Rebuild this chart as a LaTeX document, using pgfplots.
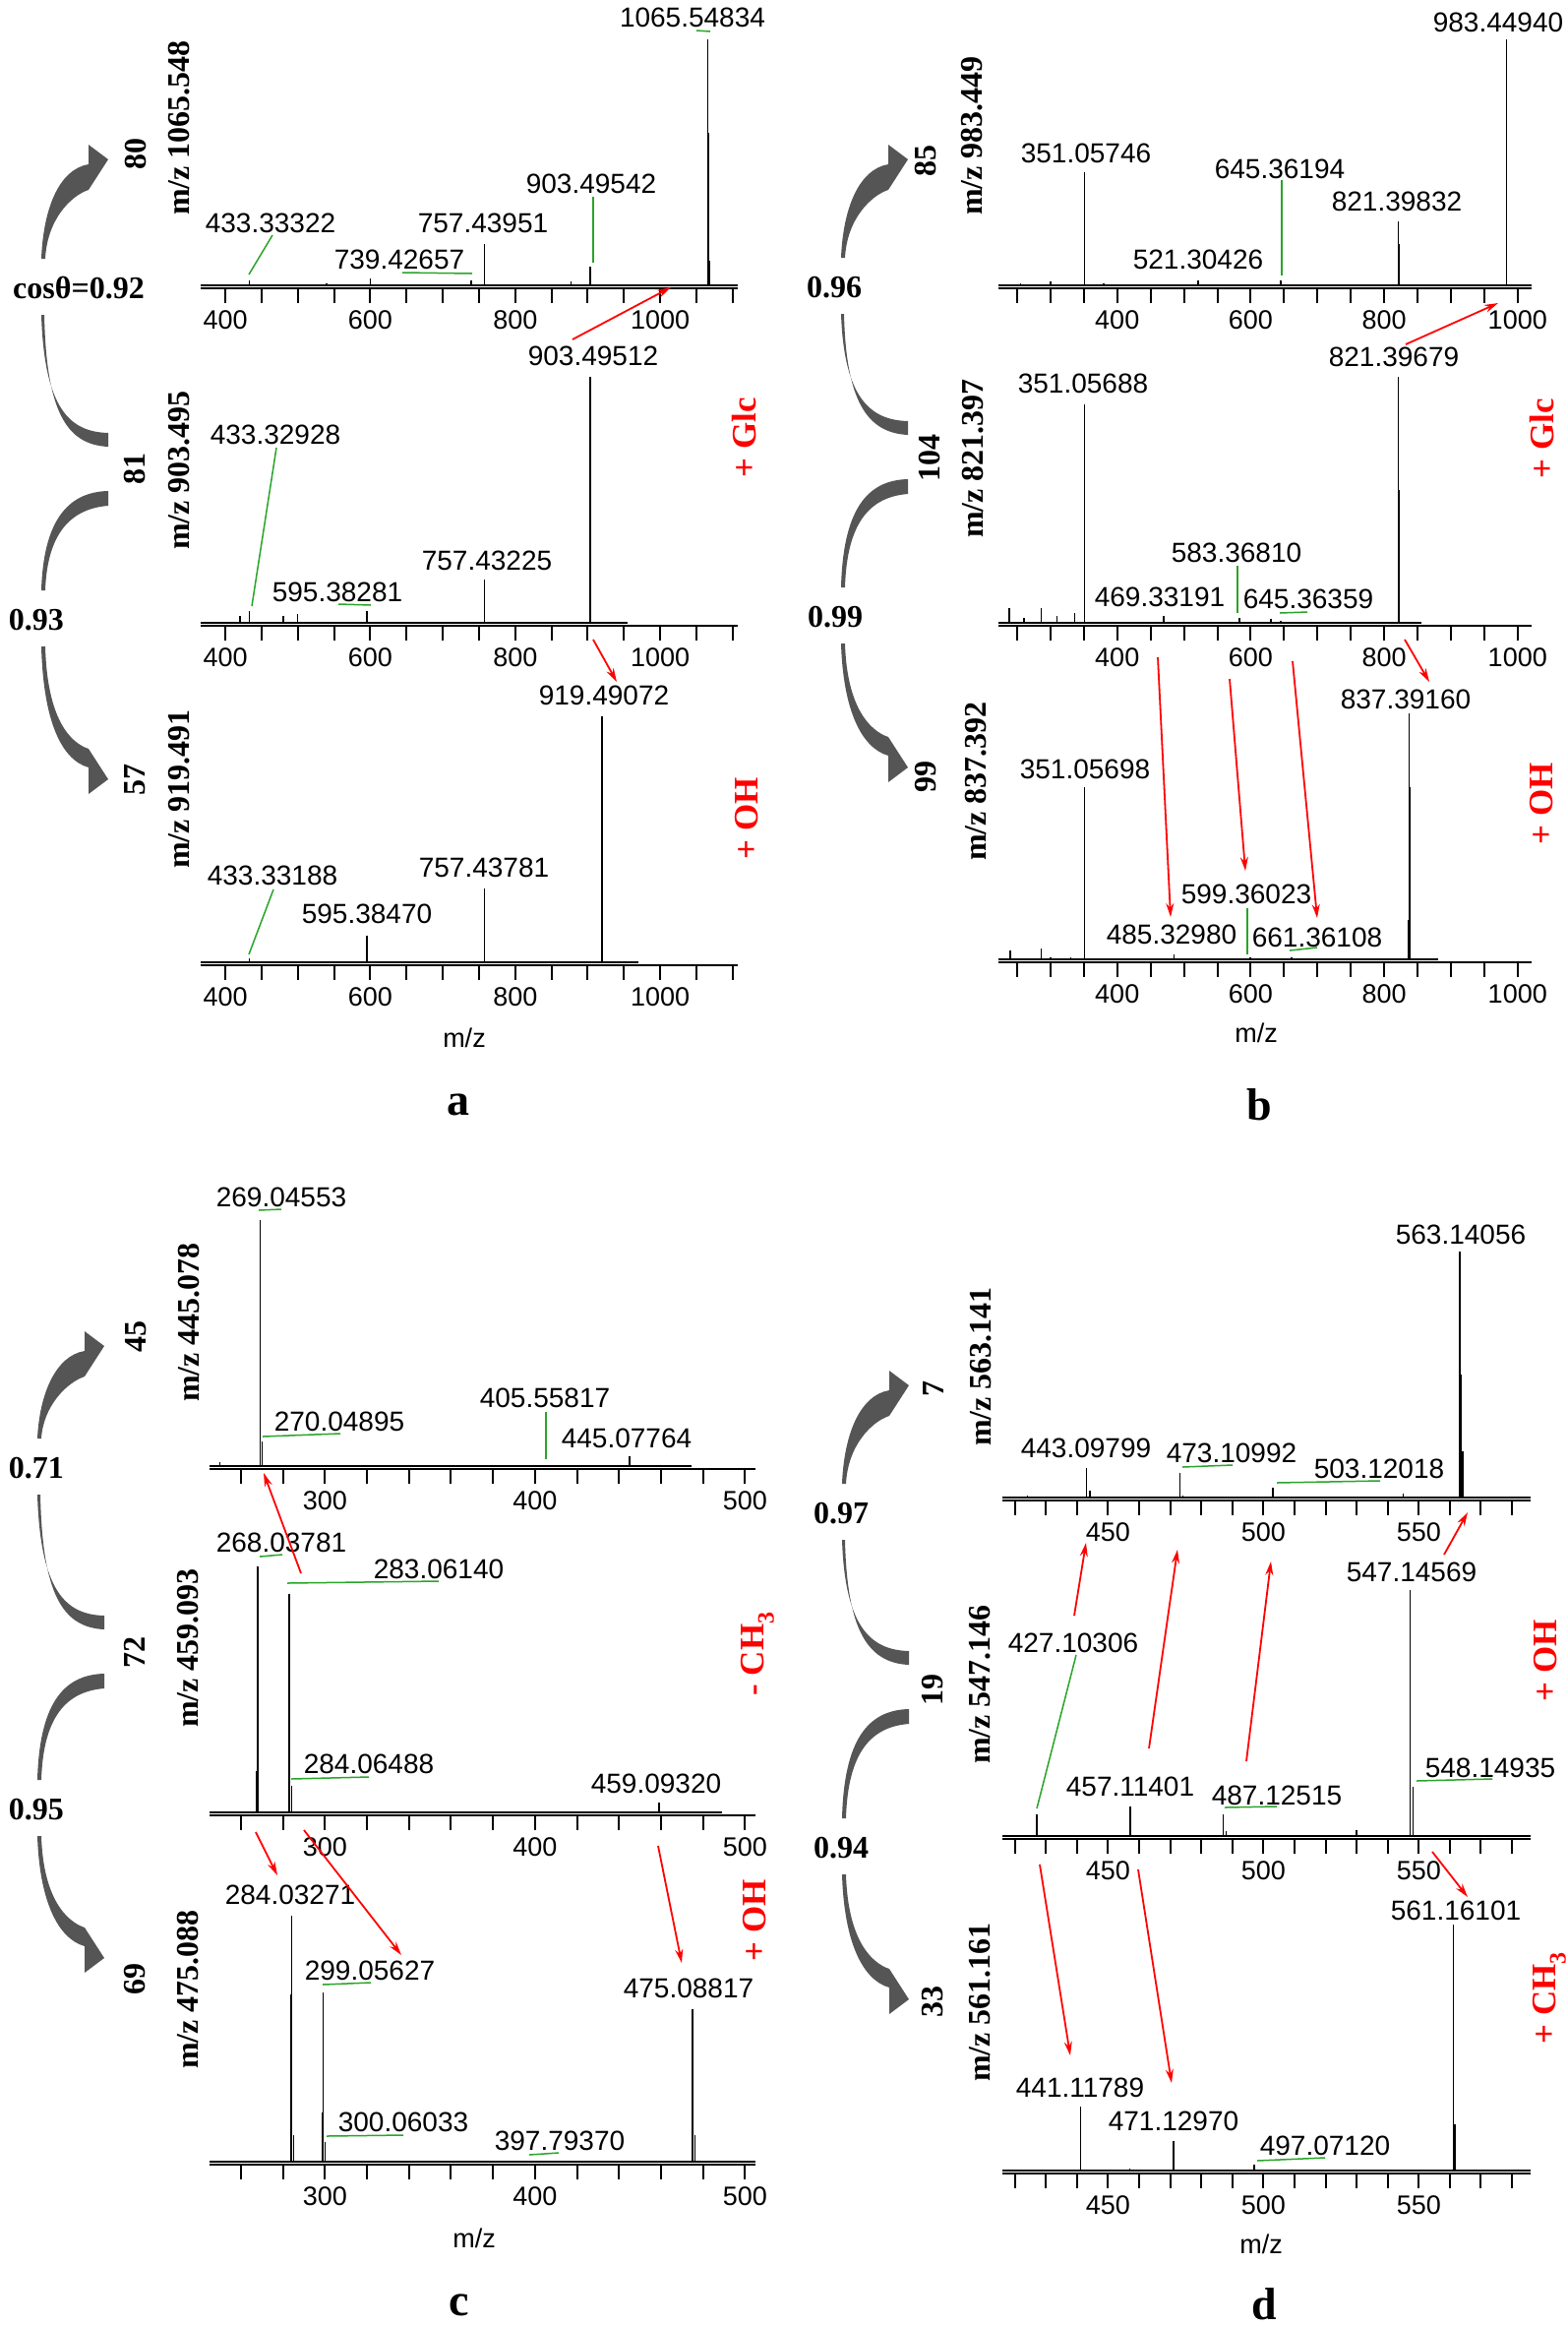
\documentclass[border=0pt]{standalone}
\usepackage{fontspec}
\setmainfont{Liberation Serif}
\newfontfamily\arial{Liberation Sans}
\usepackage{pgfplots}
\pgfplotsset{compat=1.18}
\usetikzlibrary{arrows.meta}

\definecolor{grn}{RGB}{40,165,40}
\definecolor{arr}{RGB}{85,85,85}

\newcommand\lab{\arial\fontsize{28}{32}\selectfont}
\newcommand\tk{\arial\fontsize{27}{30}\selectfont}
\newcommand\bt{\bfseries\fontsize{32}{36}\selectfont}
\newcommand\rd{\bfseries\fontsize{35}{40}\selectfont}
\newcommand\sub[1]{\raisebox{-0.3em}{\fontsize{24}{24}\selectfont #1}}

\pgfplotsset{spec/.style={
  scale only axis, height=253pt, ymin=-1.2, ymax=100,
  axis y line=none, axis x line*=bottom,
  x axis line style={-, line width=2.2pt},
  tick align=outside, major tick length=15pt, minor tick length=15pt,
  every tick/.style={black, line width=2pt},
  xticklabel style={font=\tk, yshift=-4pt},
  /pgf/number format/assume math mode=true,
  /pgf/number format/1000 sep={},
  clip=false, anchor=south west,
}}
\pgfplotsset{pk/.style={ycomb, black, line width=1.5pt}}
\pgfplotsset{base/.style={black, line width=1.6pt}}

% gray curved arrows: x, tip1, sim1, mid label, sim2, tip3
\newcommand\garrows[6]{%
 \fill[arr] (#1,#3-30) .. controls (#1+2,#2+50) and (#1+18,#2+10) .. (#1+48,#2+5)
   -- (#1+48,#2-15) -- (#1+68,#2) -- (#1+48,#2+31)
   .. controls (#1+30,#2+37) and (#1+6,#2+61) .. (#1+4,#3-30) -- cycle;
 \fill[arr] (#1,#3+27) .. controls (#1+3,#4-60) and (#1+30,#4-38) .. (#1+68,#4-37)
   -- (#1+68,#4-23) .. controls (#1+25,#4-25) and (#1+5,#4-60) .. (#1+3,#3+27) -- cycle;
 \fill[arr] (#1,#5-30) .. controls (#1+2,#4+55) and (#1+25,#4+23) .. (#1+68,#4+22)
   -- (#1+68,#4+37) .. controls (#1+30,#4+40) and (#1+6,#4+65) .. (#1+4,#5-30) -- cycle;
 \fill[arr] (#1+4,#5+27) .. controls (#1+6,#6-60) and (#1+30,#6-37) .. (#1+48,#6-31)
   -- (#1+68,#6) -- (#1+48,#6+15) -- (#1+48,#6-12)
   .. controls (#1+20,#6-20) and (#1+2,#6-60) .. (#1,#5+27) -- cycle;
}

\begin{document}
\begin{tikzpicture}

% ---------------- panel a
\begin{axis}[spec, at={(204pt,-293pt)}, width=546pt, xmin=366, xmax=1107,
  xtick={400,600,800,1000}, minor xtick={450,500,...,1100}]
\addplot[base] coordinates {(366,0) (1107,0)};
\addplot[pk] coordinates {(433.33,2) (540,1) (600,3) (739.43,2) (757.44,17) (877,1.5) (903.50,7.7) (1065.55,100) (1066.55,62) (1067.55,10)};
\end{axis}
\begin{axis}[spec, at={(204pt,-636pt)}, width=546pt, xmin=366, xmax=1107,
  xtick={400,600,800,1000}, minor xtick={450,500,...,1100}]
\addplot[base] coordinates {(366,0) (955,0)};
\addplot[pk] coordinates {(420,3) (433.33,5) (480,3) (500,3.5) (595.38,5) (757.43,17.5) (903.50,100)};
\end{axis}
\begin{axis}[spec, at={(204pt,-981pt)}, width=546pt, xmin=366, xmax=1107,
  xtick={400,600,800,1000}, minor xtick={450,500,...,1100}]
\addplot[base] coordinates {(366,0) (970,0)};
\addplot[pk] coordinates {(433.33,1.5) (595.38,11) (757.44,30) (919.49,100)};
\end{axis}

% ---------------- panel b
\begin{axis}[spec, at={(1015pt,-293pt)}, width=542pt, xmin=222, xmax=1021,
  xtick={400,600,800,1000}, minor xtick={250,300,...,1000}]
\addplot[base] coordinates {(222,0) (1021,0)};
\addplot[pk] coordinates {(255,1) (300,1.5) (351.06,46) (380,1) (521.30,2) (645.36,2) (821.40,26) (822.40,17) (983.45,100)};
\end{axis}
\begin{axis}[spec, at={(1015pt,-636pt)}, width=542pt, xmin=222, xmax=1021,
  xtick={400,600,800,1000}, minor xtick={250,300,...,1000}]
\addplot[base] coordinates {(222,0) (856,0)};
\addplot[pk] coordinates {(238,6) (260,2) (286,6) (310,3) (336,4) (351.06,89) (469.33,2.7) (583.37,2) (630,1.5) (645.36,1) (821.40,100) (822.40,54)};
\end{axis}
\begin{axis}[spec, at={(1015pt,-978pt)}, width=542pt, xmin=222, xmax=1021,
  xtick={400,600,800,1000}, minor xtick={250,300,...,1000}]
\addplot[base] coordinates {(222,0) (881,0)};
\addplot[pk] coordinates {(240,3.5) (286,4.5) (300,1) (330,1) (351.06,70) (485.33,2) (599.36,1) (661.36,1) (836.9,16) (837.39,100) (838.39,70)};
\end{axis}

% ---------------- panel c
\begin{axis}[spec, at={(213pt,-1493pt)}, width=555pt, xmin=245, xmax=505,
  xtick={300,400,500}, minor xtick={260,280,...,500}]
\addplot[base] coordinates {(245,0) (474.5,0)};
\addplot[pk] coordinates {(250,1.5) (269.05,100) (270.05,10) (405.56,0.5) (445.08,4)};
\end{axis}
\begin{axis}[spec, at={(213pt,-1845pt)}, width=555pt, xmin=245, xmax=505,
  xtick={300,400,500}, minor xtick={260,280,...,500}]
\addplot[base] coordinates {(245,0) (489,0)};
\addplot[pk] coordinates {(267.6,17) (268.04,100) (283.06,89) (284.06,11) (459.09,4)};
\end{axis}
\begin{axis}[spec, at={(213pt,-2200pt)}, width=555pt, xmin=245, xmax=505,
  xtick={300,400,500}, minor xtick={260,280,...,500}]
\addplot[base] coordinates {(245,0) (505,0)};
\addplot[pk] coordinates {(283.7,17) (283.9,68) (284.03,100) (285.03,11) (298.7,20) (299.06,69) (300.06,8) (397.79,0.5) (475.09,62) (476.09,11)};
\end{axis}

% ---------------- panel d
\begin{axis}[spec, at={(1019pt,-1525pt)}, width=537pt, xmin=416, xmax=586,
  xtick={450,500,550}, minor xtick={420,430,...,580}]
\addplot[base] coordinates {(416,0) (586,0)};
\addplot[pk] coordinates {(424,1) (443.10,12) (444.10,3) (473.11,10) (474.1,1) (503.12,4) (545,1.5) (563.14,100) (563.5,50) (564.14,19)};
\end{axis}
\begin{axis}[spec, at={(1019pt,-1869pt)}, width=537pt, xmin=416, xmax=586,
  xtick={450,500,550}, minor xtick={420,430,...,580}]
\addplot[base] coordinates {(416,0) (586,0)};
\addplot[pk] coordinates {(427.10,9) (457.11,12) (487.13,9) (488,2) (530,2.4) (547.15,100) (548.15,20)};
\end{axis}
\begin{axis}[spec, at={(1019pt,-2209pt)}, width=537pt, xmin=416, xmax=586,
  xtick={450,500,550}, minor xtick={420,430,...,580}]
\addplot[base] coordinates {(416,0) (586,0)};
\addplot[pk] coordinates {(441.12,26) (457,1) (471.13,12) (497.07,2.4) (561.16,100) (561.6,19)};
\end{axis}

\begin{scope}[x=1pt, y=-1pt]
\path[use as bounding box] (0,0) rectangle (1594,2364);

% gray arrows and similarity scores
\garrows{42}{162}{293}{477}{630}{792}
\garrows{855}{162}{292}{465}{627}{780}
\garrows{38}{1368}{1492}{1679}{1839}{1990}
\garrows{856}{1408}{1538}{1715}{1878}{2032}
\node[font=\bt] at (80,293) {cosθ=0.92};
\node[font=\bt] at (37,630) {0.93};
\node[font=\bt] at (848,292) {0.96};
\node[font=\bt] at (849,627) {0.99};
\node[font=\bt] at (37,1492) {0.71};
\node[font=\bt] at (37,1839) {0.95};
\node[font=\bt] at (855,1538) {0.97};
\node[font=\bt] at (855,1878) {0.94};

% counts and precursor labels
\foreach \x/\y/\t in {138/156/80, 137/476/81, 137/792/57, 941/163/85, 945/465/104, 941/789/99,
  138/1358/45, 137/1679/72, 137/2011/69, 949/1411/7, 948/1717/19, 948/2034/33}
  \node[font=\bt, rotate=90] at (\x,\y) {\t};
\foreach \x/\y/\t in {182/130/1065.548, 182/478/903.495, 182/802/919.491,
  988/138/983.449, 989/466/821.397, 992/794/837.392,
  192/1344/445.078, 191/1675/459.093, 191/2022/475.088,
  997/1389/563.141, 996/1712/547.146, 996/2035/561.161}
  \node[font=\bt, rotate=90] at (\x,\y) {m/z \t};

% red modification labels
\node[font=\rd, red, rotate=90] at (757,445) {+ Glc};
\node[font=\rd, red, rotate=90] at (759,832) {+ OH};
\node[font=\rd, red, rotate=90] at (1568,446) {+ Glc};
\node[font=\rd, red, rotate=90] at (1567,817) {+ OH};
\node[font=\rd, red, rotate=90] at (770,1681) {- CH\sub{3}};
\node[font=\rd, red, rotate=90] at (767,1952) {+ OH};
\node[font=\rd, red, rotate=90] at (1571,1688) {+ OH};
\node[font=\rd, red, rotate=90] at (1575,2031) {+ CH\sub{3}};

% peak labels
\foreach \x/\y/\t in {
  704/18/1065.54834, 601/187/903.49542, 491/227/757.43951, 406/264/739.42657, 275/227/433.33322,
  603/362/903.49512, 280/442/433.32928, 495/570/757.43225, 343/602/595.38281,
  614/707/919.49072, 492/882/757.43781, 373/929/595.38470, 277/890/433.33188,
  1523/23/983.44940, 1104/156/351.05746, 1301/172/645.36194, 1420/205/821.39832, 1218/264/521.30426,
  1417/363/821.39679, 1101/390/351.05688, 1257/562/583.36810, 1179/607/469.33191, 1330/609/645.36359,
  1429/711/837.39160, 1103/782/351.05698, 1267/909/599.36023, 1191/950/485.32980, 1339/953/661.36108,
  286/1217/269.04553, 345/1445/270.04895, 554/1421/405.55817, 637/1462/445.07764,
  286/1568/268.03781, 446/1595/283.06140, 375/1793/284.06488, 667/1813/459.09320,
  295/1926/284.03271, 376/2003/299.05627, 700/2021/475.08817, 410/2157/300.06033, 569/2176/397.79370,
  1485/1255/563.14056, 1104/1472/443.09799, 1252/1477/473.10992, 1402/1493/503.12018,
  1435/1598/547.14569, 1091/1670/427.10306, 1149/1816/457.11401, 1298/1825/487.12515, 1515/1797/548.14935,
  1480/1942/561.16101, 1098/2122/441.11789, 1193/2156/471.12970, 1347/2181/497.07120}
  \node[font=\lab] at (\x,\y) {\t};

% green leader lines
\begin{scope}[grn, line width=1.5pt]
\draw (277,239) -- (253,279); \draw (409,277) -- (480,278); \draw (603,200) -- (603,267);
\draw (708,31) -- (722,32);
\draw (281,455) -- (256,616); \draw (344,614) -- (377,615);
\draw (278,904) -- (253,970);
\draw (1303,183) -- (1303,280);
\draw (1258,575) -- (1258,623); \draw (1301,623) -- (1329,622);
\draw (1268,923) -- (1268,970); \draw (1311,966) -- (1339,963);
\draw (263,1230) -- (286,1229); \draw (267,1460) -- (346,1457); \draw (555,1435) -- (555,1483);
\draw (264,1582) -- (287,1580); \draw (292,1609) -- (446,1607); \draw (296,1808) -- (375,1806);
\draw (328,2017) -- (377,2015); \draw (332,2171) -- (410,2170); \draw (538,2190) -- (568,2188);
\draw (1202,1491) -- (1253,1489); \draw (1298,1507) -- (1403,1505);
\draw (1094,1682) -- (1054,1838); \draw (1245,1837) -- (1298,1836); \draw (1440,1810) -- (1517,1808);
\draw (1278,2196) -- (1347,2193);
\end{scope}

% red correspondence arrows
\begin{scope}[red, line width=1.8pt, -{Stealth[length=14pt, width=8pt]}]
\draw (582,345) -- (682,292); \draw (603,650) -- (627,693);
\draw (1429,350) -- (1523,308); \draw (1177,668) -- (1190,932); \draw (1250,690) -- (1266,885);
\draw (1314,672) -- (1339,933); \draw (1428,650) -- (1453,693);
\draw (306,1599) -- (268,1497); \draw (260,1862) -- (282,1906); \draw (309,1860) -- (408,1987);
\draw (669,1876) -- (693,1995);
\draw (1092,1642) -- (1104,1568); \draw (1168,1777) -- (1197,1575); \draw (1267,1790) -- (1292,1587);
\draw (1468,1580) -- (1492,1537); \draw (1057,1895) -- (1088,2089); \draw (1157,1900) -- (1191,2117);
\draw (1456,1882) -- (1492,1928);
\end{scope}

% axis titles and panel letters
\node[font=\tk] at (472,1055) {m/z};
\node[font=\tk] at (1277,1050) {m/z};
\node[font=\tk] at (482,2275) {m/z};
\node[font=\tk] at (1282,2281) {m/z};
\foreach \x/\y/\t in {466/1123/a, 1280/1123/b, 467/2343/c, 1285/2342/d}
  \node[font=\bfseries\fontsize{46}{50}\selectfont] at (\x,\y) {\t};
\end{scope}
\end{tikzpicture}
\end{document}
